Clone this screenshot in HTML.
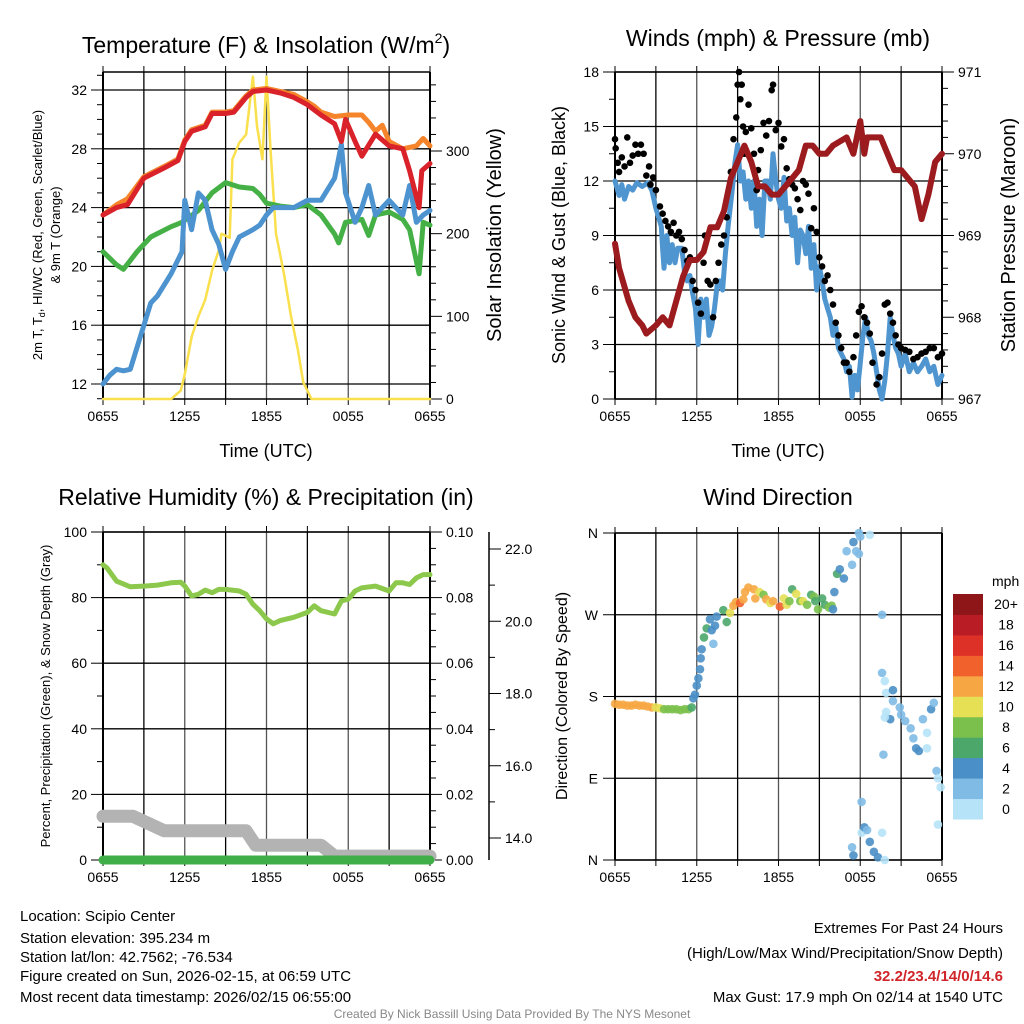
<!DOCTYPE html>
<html><head><meta charset="utf-8"><style>
html,body{margin:0;padding:0;background:#fff;}
svg{display:block;font-family:"Liberation Sans",Arial,sans-serif;}
</style></head><body>
<svg id="c" width="1024" height="1024" viewBox="0 0 1024 1024">
<rect width="1024" height="1024" fill="#fff"/>
<g id="g1"></g>
<g id="g2"></g>
<g id="g3"></g>
<g id="g4"></g>
<g font-size="15" fill="#000">
<text x="20" y="921">Location: Scipio Center</text>
<text x="20" y="943">Station elevation: 395.234 m</text>
<text x="20" y="962">Station lat/lon: 42.7562; -76.534</text>
<text x="20" y="981">Figure created on Sun, 2026-02-15, at 06:59 UTC</text>
<text x="20" y="1002">Most recent data timestamp: 2026/02/15 06:55:00</text>
</g>
<g font-size="15" text-anchor="end">
<text x="1003" y="933">Extremes For Past 24 Hours</text>
<text x="1003" y="958">(High/Low/Max Wind/Precipitation/Snow Depth)</text>
<text x="1003" y="981" fill="#d0262b" font-weight="bold">32.2/23.4/14/0/14.6</text>
<text x="1003" y="1002">Max Gust: 17.9 mph On 02/14 at 1540 UTC</text>
</g>
<text x="512" y="1018" font-size="12" fill="#888" text-anchor="middle">Created By Nick Bassill Using Data Provided By The NYS Mesonet</text>
</svg>
<script>
// ---- data (hours since 0655 UTC) ----
const xTickLabels=["0655","1255","1855","0055","0655"];
const tT=[0,1,1.8,3,4.5,5.5,6,6.5,7.5,8,9,9.6,10.5,11,12,13,14,15,16,17,17.5,17.8,18.5,19,20,21,22,22.5,23.2,23.4,24];
const tempRed=[23.5,24,24.2,26,26.7,27.2,28.5,29.2,29.5,30.4,30.4,30.5,31.5,31.9,32,31.8,31.5,31,30.3,29.7,28.5,30,28.5,27.5,29,28.2,28,26.5,24,26.5,27];
const tO=[0,1,1.8,3,4.5,5.5,6,6.5,7.5,8,9,9.6,10.5,11,12,13,14,15,15.5,16,17,18,19,19.5,20,20.5,21,22,23,23.5,24];
const tempOrange=[23.5,24.2,24.6,26.1,26.8,27.3,28.6,29.3,29.6,30.5,30.5,30.6,31.6,32,32.1,31.9,31.7,31.2,30.9,30.5,30.2,30.3,30.3,29.8,29.2,29.6,28.5,28,28.2,28.7,28.2];
const tG=[0,1,1.5,2.5,3.5,5,5.8,7,8,9,10,11,11.5,12,13,14,15,16,17,17.3,17.8,19,19.5,20,21,22,22.5,23.2,23.5,24];
const dewGreen=[21,20.1,19.8,21,22,22.7,23,23.8,25,25.7,25.4,25.3,24.9,24.3,24.1,24,24.2,23.5,22.2,21.6,23,23.2,22.1,23.5,23.7,23.2,22.5,19.5,23,22.8];
const tB=[0,0.5,1,1.5,2,2.5,3,3.5,4,5,5.8,6,6.5,7,7.5,8,8.5,9,9.5,10,11,11.5,12,12.5,13,14,15,16,17,17.5,17.8,18.5,19,19.5,20,21,22,22.5,23,23.5,24];
const chillBlue=[12,12.6,13,12.9,13,14.5,16,17.5,18,19.5,21,24.5,22.5,25,24.5,22.5,21.5,19.8,21,22,22.5,22.8,23.5,24,24,24,24.5,24.5,26,28.3,25,23,24,25.5,23.5,24.5,23.5,25.5,23,23.5,23.8];
const tY=[0,5,5.7,6,6.5,7,7.5,8,8.5,8.7,9.3,9.5,10,10.5,11,11.3,11.5,11.7,12,12.3,12.7,13.3,13.8,14.3,14.7,15.3,24];
const solar=[0,0,10,30,75,100,120,155,180,200,195,290,310,320,390,330,310,290,390,300,200,150,100,60,20,0,0];

const tW=[0,0.3,0.5,0.7,1,1.3,1.6,2,2.4,2.7,3,3.2,3.4,3.5,3.6,3.8,4,4.2,4.4,4.6,4.9,5.1,5.3,5.5,5.7,5.9,6.1,6.3,6.5,6.7,6.9,7.1,7.3,7.5,7.7,7.9,8.1,8.3,8.6,8.8,9,9.2,9.4,9.6,9.8,10,10.2,10.4,10.6,10.8,11,11.2,11.4,11.6,11.8,12,12.2,12.4,12.6,12.8,13,13.2,13.4,13.6,13.8,14,14.2,14.4,14.6,14.8,15,15.2,15.4,15.6,15.8,16,16.2,16.4,16.6,16.8,17,17.2,17.4,17.6,17.8,18,18.2,18.4,18.6,18.8,19,19.2,19.4,19.6,19.8,20,20.2,20.4,20.6,20.8,21,21.3,21.6,21.9,22.2,22.5,22.8,23.1,23.4,23.7,24];
const windSpeed=[12,11.2,11.8,11,11.7,11.5,11.9,11.7,11.9,11.5,10.5,10,9.5,8.2,7.2,9,7.5,8.5,7.5,8.3,8.3,7,6.5,6.8,5.8,5,3,5.5,4.5,5.5,3.5,4,5,6.3,6.5,6,8,9.5,11.5,13,14,12,12.5,11,12,10.5,12,9.5,11,9,12,12,11,13.5,12,11,10.5,12.2,9.8,10.5,9,10,7.5,9.3,9,8,9.5,7.2,8.5,6,7.3,6.5,5.5,5,4.5,3.5,4,2.8,2.5,2.2,1.5,1.8,0.1,1.3,0.5,2,3.5,4.5,3.5,3.2,2.5,1.5,0.5,0,1,2.5,4.5,3.5,2.8,2.5,1.8,2.5,1.5,2,1.5,1.8,2.2,1.5,1.8,0.8,1.3];
const tGust=[0,0.05,0.2,0.3,0.5,0.7,0.9,1.1,1.3,1.5,1.7,1.9,2.1,2.3,2.5,2.6,2.8,3,3.3,3.5,3.7,3.9,4.1,4.3,4.5,4.7,4.9,5.1,5.3,5.5,5.7,5.9,6.1,6.3,6.5,6.6,6.8,7,7.2,7.4,7.6,7.8,8,8.2,8.5,8.7,8.9,9,9.1,9.2,9.3,9.4,9.5,9.6,9.8,10,10.2,10.4,10.5,10.7,10.9,11.1,11.3,11.5,11.6,11.8,12,12.2,12.4,12.6,12.8,13,13.2,13.4,13.6,13.8,14,14.2,14.4,14.6,14.8,15,15.2,15.4,15.6,15.8,16,16.2,16.4,16.6,16.8,17,17.2,17.5,17.7,17.9,18.1,18.3,18.5,18.7,18.9,19.2,19.4,19.6,19.8,20,20.2,20.4,20.6,20.8,21,21.3,21.6,21.9,22.2,22.5,22.8,23.1,23.4,23.7,24];
const gust=[14.3,13.8,13,12.5,13.3,12.8,14.4,13,13.4,14,13.5,14,13.5,12.3,12.8,11.8,12.2,11.5,10.6,10.2,9.8,9.5,9.2,9.7,9,9.2,8.8,8.2,7.6,7.8,6.5,6,5.3,4.7,7.5,9,6.5,6.3,4.5,6.5,7.5,8.5,9,10,12.5,14.3,15.5,17.3,18,16.5,17.3,15,13.5,14.7,16.2,14.9,13.5,11.5,12.6,13.7,15.2,14.5,15.3,17,17.3,14.8,15.2,13.9,14.3,12.7,12.1,11.8,11.6,11,10.4,12,11.8,11.3,9.4,10.5,9.2,7.8,7.3,6.5,6.8,6,5.2,4.2,3.5,2.8,2,2,1.5,2.3,3.5,4.8,5.1,4.5,4.2,3.6,2,0.8,1.2,2.5,5.2,5.3,4.7,4.2,3.5,3,2.8,2.7,2.6,2.2,2.3,2.5,2.6,2.8,2.8,2.3,2.5,1.7];
const tP=[0,0.3,1,1.5,2,2.3,3,3.5,4,4.5,5,5.5,6,6.5,7,7.5,8,8.5,9,9.5,10,10.5,11,11.5,12,12.5,13,13.5,14,14.5,15,15.5,16,17,17.5,18,18.3,18.5,19,19.5,20,20.5,21,22,22.5,23,23.5,24];
const pressure=[968.9,968.6,968.2,968,967.9,967.8,967.9,968,967.9,968.2,968.5,968.7,968.7,968.8,969.1,969.1,969.3,969.7,969.9,970.1,969.9,969.6,969.6,969.5,969.5,969.6,969.7,969.8,970.1,970.1,970,970,970.1,970.2,970,970.4,970,970.2,970.2,970.2,970,969.8,969.8,969.6,969.2,969.5,969.9,970];

const tRH=[0,0.3,1,2,3,4,5,5.7,6,6.5,7,7.5,8,8.5,9,10,10.5,11,11.5,12,12.5,13,13.5,14,15,15.5,16,17,17.5,18,18.5,19,20,21,21.5,22,22.5,23,23.5,24];
const rh=[90,89,85,83.3,83.5,83.8,84.5,84.7,83.5,80.5,81,82.3,81.5,82.5,82.5,82,81,78,76,73.5,72,73,73.5,74,75.5,77.5,76,75,79,79.5,82,83,83.5,82,84.5,84.5,84,86,87,87];
const tSnow=[0,1.5,2.2,4.5,6,9,10.5,11.2,13,16,17,18,19,20,24];
const snowDepth=[14.6,14.6,14.6,14.2,14.2,14.2,14.2,13.8,13.8,13.8,13.5,13.5,13.5,13.5,13.5];
const tPrecip=[0,24];
const precip=[0,0];

const tDir=[0,0.3,0.6,0.9,1.2,1.5,1.8,2.1,2.4,2.7,3,3.3,3.6,3.9,4.2,4.5,4.8,5.1,5.4,5.63,5.75,5.87,6,6.12,6.24,6.29,6.36,6.53,6.73,6.97,7.1,7.22,7.34,7.46,7.95,8.2,8.44,8.69,8.88,9.18,9.42,9.54,9.79,10.2,10.3,10.6,10.9,11.1,11.4,11.6,12.1,12.4,12.6,12.8,13,13.3,13.6,13.8,14.1,14.4,14.6,14.7,14.9,15.2,15.4,15.7,15.9,16,16.1,16.3,16.5,16.8,17,17.4,17.5,17.7,17.9,18,18.1,17.4,17.5,18.1,18.3,18.5,18.7,19,19.3,19.6,18.7,17.9,19.6,19.6,19.8,19.9,19.9,20.2,20.4,20.4,20.9,21,21.3,21.7,21.9,22.1,22.3,22.6,22.9,22.9,23.2,23.4,23.6,23.7,23.7,23.9,19.8,19.8,19.7,23.5,22.4];
const direction=[172,171,171,170,170,171,170,170,169,168,168,167,166,166,166,166,165,166,166,168,178,182,192,200,210,222,232,245,255,265,253,238,258,268,275,262,272,280,284,283,287,295,300,298,288,295,292,287,283,285,279,288,281,285,298,293,285,285,281,292,290,285,276,288,281,278,280,276,295,315,320,310,340,325,350,340,360,356,30,14,5,64,36,33,20,9,3,30,358,337,270,206,197,184,163,155,187,175,168,160,153,145,134,123,120,155,140,123,166,173,98,39,90,80,0,157,116];
const speed=[12,12,12,12,12,12,12,12,12,12,10,10,8,8,8,8,8,8,8,6,4,4,4,4,4,4,4,6,6,4,4,2,4,4,6,6,10,12,12,14,12,12,12,12,12,10,8,12,10,12,14,10,10,8,6,10,8,10,8,6,8,6,8,6,6,8,8,4,4,6,4,4,2,2,4,2,2,2,0,2,3,2,3,2,4,4,4,0,0,2,2,2,0,0,0,4,4,2,2,2,2,2,2,4,4,2,0,0,4,2,2,0,0,0,0,0,2];

const cbLabels=["0","2","4","6","8","10","12","14","16","18","20+"];
const cbColors=["#b6e3f8","#80bbe5","#4a8fc7","#4ba76a","#7bc04c","#e6e055","#f6a744","#f0612c","#dd3127","#b91c25","#8e1619"];

// ---- helpers ----
const NS="http://www.w3.org/2000/svg";
function el(parent,tag,attrs,text){const e=document.createElementNS(NS,tag);for(const k in attrs)e.setAttribute(k,attrs[k]);if(text!==undefined)e.textContent=text;parent.appendChild(e);return e;}
function lin(d0,d1,r0,r1){return v=>r0+(v-d0)/(d1-d0)*(r1-r0);}
function pathD(xs,ys,fx,fy){const n=Math.min(xs.length,ys.length);let s="";for(let i=0;i<n;i++)s+=(i?"L":"M")+fx(xs[i]).toFixed(1)+","+fy(ys[i]).toFixed(1);return s;}

function frame(g,L,R,T,B,fx,hgrid){
  for(let h=0;h<=24;h+=3){const x=fx(h);
    const ln=el(g,"line",{x1:x,x2:x,y1:T,y2:B,stroke:h%6==0?"#555":"#000","stroke-width":1.3});
    
    
    el(g,"line",{x1:x,x2:x,y1:B,y2:B+6,stroke:"#000","stroke-width":1});
    el(g,"line",{x1:x,x2:x,y1:T,y2:T-6,stroke:"#000","stroke-width":1});
  }
  hgrid.forEach(y=>{const ln=el(g,"line",{x1:L,x2:R,y1:y,y2:y,stroke:"#000","stroke-width":1.3});
    
    });
  el(g,"line",{x1:L,x2:L,y1:T,y2:B,stroke:"#000","stroke-width":2});
  el(g,"line",{x1:R,x2:R,y1:T,y2:B,stroke:"#000","stroke-width":2});
  el(g,"line",{x1:L,x2:R,y1:T,y2:T,stroke:"#000","stroke-width":1.5});
  el(g,"line",{x1:L,x2:R,y1:B,y2:B,stroke:"#000","stroke-width":1.5});
  xTickLabels.forEach((s,i)=>{const t=el(g,"text",{x:fx(i*6),y:B+22,"font-size":14,"text-anchor":"middle"},s);
    
    });
}
function yTicks(g,vals,fy,x,side,fmt,minorVals){
  vals.forEach(v=>{const y=fy(v);
    el(g,"line",{x1:x,x2:x+(side<0?-12:12),y1:y,y2:y,stroke:"#000","stroke-width":1});
    const t=el(g,"text",{x:x+(side<0?-16:16),y:y+5,"font-size":14,"text-anchor":side<0?"end":"start"},fmt(v));
    
    });
  (minorVals||[]).forEach(v=>{const y=fy(v);el(g,"line",{x1:x,x2:x+(side<0?-6:6),y1:y,y2:y,stroke:"#000","stroke-width":1});});
}
function line(g,xs,ys,fx,fy,color,w,name){const p=el(g,"path",{d:pathD(xs,ys,fx,fy),fill:"none",stroke:color,"stroke-width":w,"stroke-linejoin":"round","stroke-linecap":"round"});
  
  return p;}
function title(g,x,y,txt,name){const t=el(g,"text",{x:x,y:y,"font-size":23,"text-anchor":"middle"},txt);
  
  return t;}
function vlabel(g,x,y,txt,size,name){const t=el(g,"text",{x:0,y:0,"font-size":size,"text-anchor":"middle",transform:`translate(${x},${y}) rotate(-90)`},txt);
  
  return t;}
function range(a,b,s){const r=[];for(let v=a;v<=b+1e-9;v+=s)r.push(+v.toFixed(4));return r;}

// ---- Panel 1: temperature ----
(function(){const g=document.getElementById("g1");const L=103,R=430,T=72,B=399;
  const fx=lin(0,24,L,R),fy=lin(12,32,384,90),fs=lin(0,300,399,151);
  frame(g,L,R,T,B,fx,[12,16,20,24,28,32].map(fy));
  yTicks(g,[12,16,20,24,28,32],fy,L,-1,v=>v,[11,13,14,15,17,18,19,21,22,23,25,26,27,29,30,31,33].filter(v=>fy(v)>=T&&fy(v)<=B));
  yTicks(g,[0,100,200,300],fs,R,1,v=>v,range(20,380,20).filter(v=>v%100));
  line(g,tY,solar,fx,fs,"#f9e04c",2.5,"solar-insolation-line");
  line(g,tG,dewGreen,fx,fy,"#45b046",5,"dewpoint-line");
  line(g,tB,chillBlue,fx,fy,"#4c93cf",5,"windchill-line");
  line(g,tO,tempOrange,fx,fy,"#f5842a",5,"temp-9m-line");
  line(g,tT,tempRed,fx,fy,"#d9222a",5,"temp-2m-line");
  const tt=title(g,266,53,"","temperature-title");
  tt.innerHTML='Temperature (F) &amp; Insolation (W/m<tspan font-size="14" dy="-10">2</tspan><tspan dy="10">)</tspan>';
  const t=el(g,"text",{"font-size":18,"text-anchor":"middle",x:266,y:457},"Time (UTC)");
  
  
  const a=vlabel(g,42,235,"",13,"y-axis-title");
  a.innerHTML='2m T, T<tspan font-size="9" dy="3">d</tspan><tspan dy="-3">, HI/WC (Red, Green, Scarlet/Blue)</tspan>';
  vlabel(g,60,235,"& 9m T (Orange)",13,"y-axis-title-2");
  vlabel(g,501,235,"Solar Insolation (Yellow)",20,"right-axis-title");
})();

// ---- Panel 2: wind ----
(function(){const g=document.getElementById("g2");const L=615,R=942,T=72,B=399;
  const fx=lin(0,24,L,R),fy=lin(0,18,399,72),fp=lin(967,971,399,72);
  frame(g,L,R,T,B,fx,[0,3,6,9,12,15,18].map(fy));
  yTicks(g,[0,3,6,9,12,15,18],fy,L,-1,v=>v,range(1.5,16.5,3));
  yTicks(g,[967,968,969,970,971],fp,R,1,v=>v,range(967.2,970.8,0.2).filter(v=>Math.abs(v-Math.round(v))>0.01));
  line(g,tW,windSpeed,fx,fy,"#4f95d0",5,"sonic-wind-line");
  const n=Math.min(tGust.length,gust.length);
  for(let i=0;i<n;i++){const c=el(g,"circle",{cx:fx(tGust[i]),cy:fy(gust[i]),r:3.3,fill:"#000"});
    
    }
  line(g,tP,pressure,fx,fp,"#9b1b1e",6,"pressure-line");
  title(g,778,46,"Winds (mph) & Pressure (mb)","wind-title");
  const t=el(g,"text",{"font-size":18,"text-anchor":"middle",x:778,y:457},"Time (UTC)");
  
  
  vlabel(g,565,235,"Sonic Wind & Gust (Blue, Black)",18,"y-axis-title");
  vlabel(g,1015,235,"Station Pressure (Maroon)",20,"right-axis-title");
})();

// ---- Panel 3: humidity ----
(function(){const g=document.getElementById("g3");const L=103,R=430,T=532,B=860;
  const fx=lin(0,24,L,R),fy=lin(0,100,860,532),fq=lin(0,0.1,860,532),fsn=lin(14,22,838,549);
  frame(g,L,R,T,B,fx,[0,20,40,60,80,100].map(fy));
  yTicks(g,[0,20,40,60,80,100],fy,L,-1,v=>v,range(10,90,20));
  yTicks(g,[0,0.02,0.04,0.06,0.08,0.1],fq,R,1,v=>v.toFixed(2),range(0.005,0.095,0.005).filter(v=>Math.round(v*1000)%20));
  el(g,"line",{x1:489,x2:489,y1:532,y2:860,stroke:"#000","stroke-width":1.5});
  yTicks(g,[14,16,18,20,22],fsn,489,1,v=>v.toFixed(1),[15,17,19,21]);
  line(g,tSnow,snowDepth,fx,fsn,"#b3b3b3",13,"snow-depth-line");
  line(g,tPrecip,precip,fx,fq,"#3fae49",9,"precipitation-line");
  line(g,tRH,rh,fx,fy,"#8cc84b",5,"relative-humidity-line");
  title(g,266,505,"Relative Humidity (%) & Precipitation (in)","humidity-title");
  vlabel(g,50,696,"Percent, Precipitation (Green), & Snow Depth (Gray)",13,"y-axis-title");
})();

// ---- Panel 4: wind direction ----
(function(){const g=document.getElementById("g4");const L=615,R=942,T=533,B=860;
  const fx=lin(0,24,L,R),fy=lin(0,360,860,533);
  frame(g,L,R,T,B,fx,[0,90,180,270,360].map(fy));
  ["N","E","S","W","N"].forEach((s,i)=>{const y=fy(i*90);
    el(g,"line",{x1:L,x2:L-12,y1:y,y2:y,stroke:"#000"});
    const t=el(g,"text",{x:598,y:y+5,"font-size":14,"text-anchor":"end"},s);
    
    });
  function col(s){return cbColors[Math.min(10,Math.floor((s+1)/2))];}
  const n=Math.min(tDir.length,direction.length,speed.length);
  for(let i=0;i<n;i++){const c=el(g,"circle",{cx:fx(tDir[i]),cy:fy(direction[i]),r:4.3,fill:col(speed[i]),opacity:0.9});
    
    }
  title(g,778,505,"Wind Direction","wind-direction-title");
  vlabel(g,567,696,"Direction (Colored By Speed)",16,"y-axis-title");
  const cb=el(g,"g",{});
  const h=(819-594)/11;
  cbColors.forEach((c,i)=>{const y=819-(i+1)*h;
    const r=el(cb,"rect",{x:953,y:y,width:30,height:h+0.5,fill:c});
    
    
    const t=el(cb,"text",{x:1006,y:y+h/2+5,"font-size":14,"text-anchor":"middle"},cbLabels[i]);
    
    });
  const u=el(cb,"text",{x:992,y:586,"font-size":14},"mph");
  
  
})();
</script>
</body></html>
